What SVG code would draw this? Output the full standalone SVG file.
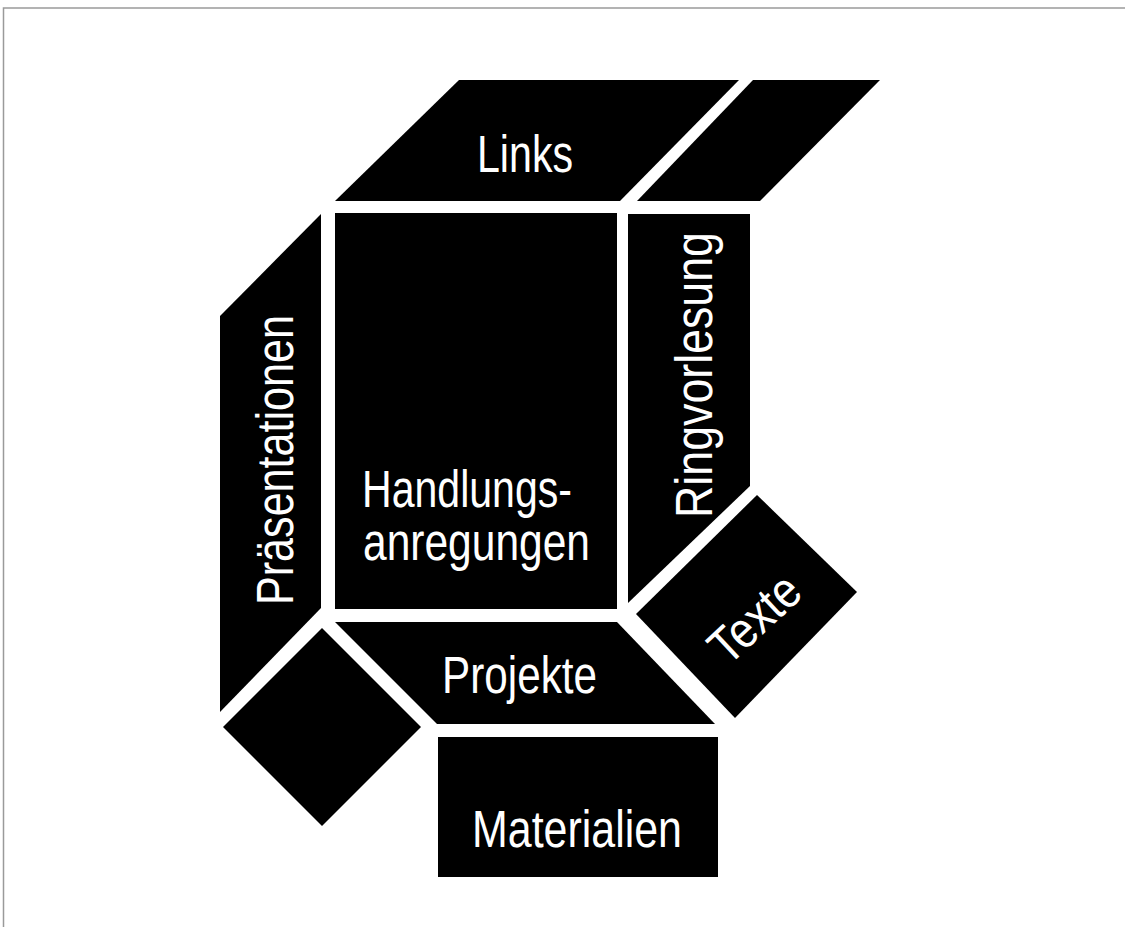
<svg xmlns="http://www.w3.org/2000/svg" width="1125" height="927" viewBox="0 0 1125 927">
<style>
.shape{fill:#000;stroke:none}
.lbl{fill:#fff;font-family:"Liberation Sans",Arial,sans-serif;font-size:51px}
</style>
<rect width="1125" height="927" fill="#fff"/>
<path d="M3.5,927 V8 H1125" fill="none" stroke="#9a9a9a" stroke-width="1.5"/>
<g id="links">
<polygon class="shape" points="459,80 739,80 620,201 335,201"/>
<text class="lbl" x="477" y="172" textLength="96" lengthAdjust="spacingAndGlyphs">Links</text>
</g>
<g id="top-right">
<polygon class="shape" points="753,80 880,80 760,201 637,201"/>
</g>
<g id="handlungsanregungen">
<rect class="shape" x="335" y="213" width="282" height="396"/>
<text class="lbl" x="362" y="507" textLength="210" lengthAdjust="spacingAndGlyphs">Handlungs-</text>
<text class="lbl" x="363" y="560" textLength="227" lengthAdjust="spacingAndGlyphs">anregungen</text>
</g>
<g id="praesentationen">
<polygon class="shape" points="321,214 321,608 220,712 220,316"/>
<text class="lbl" transform="translate(293,605) rotate(-90)" x="0" y="0" textLength="290" lengthAdjust="spacingAndGlyphs">Präsentationen</text>
</g>
<g id="ringvorlesung">
<polygon class="shape" points="628,214 750,214 750,486 628,603"/>
<text class="lbl" transform="translate(712,518) rotate(-90)" x="0" y="0" textLength="286" lengthAdjust="spacingAndGlyphs">Ringvorlesung</text>
</g>
<g id="bottom-left">
<polygon class="shape" points="322,628 421,727 322,826 223,727"/>
</g>
<g id="projekte">
<polygon class="shape" points="335,622 617,622 715,724 437,724"/>
<text class="lbl" x="442" y="693" textLength="155" lengthAdjust="spacingAndGlyphs">Projekte</text>
</g>
<g id="texte">
<polygon class="shape" points="757,495 857,592 735,718 636,614"/>
<text class="lbl" transform="translate(728,667) rotate(-43)" x="0" y="0" textLength="105" lengthAdjust="spacingAndGlyphs">Texte</text>
</g>
<g id="materialien">
<rect class="shape" x="438" y="737" width="280" height="140"/>
<text class="lbl" x="472" y="847" textLength="210" lengthAdjust="spacingAndGlyphs">Materialien</text>
</g>
</svg>
